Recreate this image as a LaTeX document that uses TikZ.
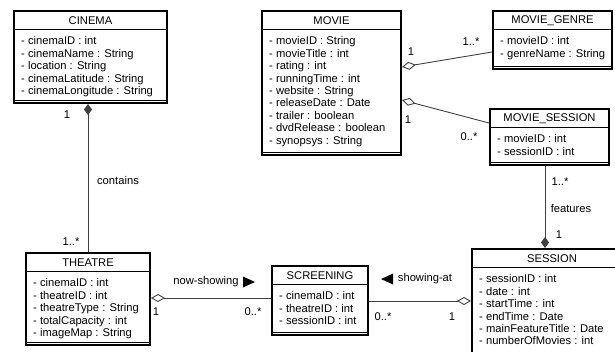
\documentclass[tikz,border=0pt]{standalone}
\usepackage{fontspec}
\setmainfont{Liberation Sans}
\usetikzlibrary{arrows.meta,calc}
\newcommand\umlclass[7]{% name, x, y, w, h, title, attributes
  \node[box, minimum width=#4pt, minimum height=#5pt] (#1) at (#2,#3) {};
  \draw[sepline] ($(#1.north west)+(0,19)$) -- ($(#1.north east)+(0,19)$);
  \draw[sepline] ($(#1.south west)+(0,-4)$) -- ($(#1.south east)+(0,-4)$);
  \node[ttl] (#1-t) at ($(#1.north)+(0,10.5)$) {#6};
  \node[attr] (#1-a) at ($(#1.north west)+(8,26.5)$) {#7};
}
\begin{document}
\begin{tikzpicture}[x=1pt,y=-1pt,
  box/.style={draw=black, line width=2pt, fill=white, inner sep=0pt, anchor=north west},
  sepline/.style={draw=black, line width=0.7pt},
  ttl/.style={font=\fontsize{11.2}{12.4}\selectfont, inner sep=0pt},
  attr/.style={font=\fontsize{11.2}{12.4}\selectfont, align=left, inner sep=0pt, anchor=north west},
  lbl/.style={font=\fontsize{11.2}{12.4}\selectfont, inner sep=0pt},
  conn/.style={draw=black!75, line width=0.9pt},
  agg/.style={conn, {Diamond[open,length=14pt,width=8pt,line width=0.9pt]}-},
  comp/.style={conn, {Diamond[length=11pt,width=8pt]}-},
]
\useasboundingbox (0,0) rectangle (615,351);

\umlclass{cinema}{13}{10}{153}{92}{CINEMA}{- cinemaID : int\\- cinemaName : String\\- location : String\\- cinemaLatitude : String\\- cinemaLongitude : String}
\umlclass{movie}{261}{10}{139}{144}{MOVIE}{- movieID : String\\- movieTitle : int\\- rating : int\\- runningTime : int\\- website : String\\- releaseDate : Date\\- trailer : boolean\\- dvdRelease : boolean\\- synopsys : String}
\umlclass{genre}{492}{10}{119}{58}{MOVIE\_GENRE}{- movieID : int\\- genreName : String}
\umlclass{msession}{489}{108}{119}{56}{MOVIE\_SESSION}{- movieID : int\\- sessionID : int}
\umlclass{theatre}{25}{252}{124}{92}{THEATRE}{- cinemaID : int\\- theatreID : int\\- theatreType : String\\- totalCapacity : int\\- imageMap : String}
\umlclass{screening}{271}{265}{96}{69}{SCREENING}{- cinemaID : int\\- theatreID : int\\- sessionID : int}
\umlclass{session}{471}{248}{160}{115}{SESSION}{- sessionID : int\\- date : int\\- startTime : int\\- endTime : Date\\- mainFeatureTitle : Date\\- numberOfMovies : int}

% connectors
\draw[comp] ($(cinema.south west)+(75,0)$) -- ($(theatre.north west)+(63,0)$);
\draw[agg] ($(theatre.north east)+(0,46)$) -- ($(screening.north west)+(0,33)$);
\draw[agg] ($(session.north west)+(0,53)$) -- ($(screening.north east)+(0,36)$);
\draw[comp] ($(session.north west)+(74,0)$) -- ($(msession.south west)+(56,0)$);
\draw[agg] ($(movie.north east)+(0,57)$) -- ($(genre.north west)+(0,42)$);
\draw[agg] ($(movie.north east)+(0,90)$) -- ($(msession.north west)+(0,15)$);

% labels
\node[lbl] (l1) at (67,115) {1};
\node[lbl] (l2) at (118,180) {contains};
\node[lbl] (l3) at (71,242) {1..*};
\node[lbl] (l4) at (206,282) {now-showing};
\fill (243,276.5) -- (255,282) -- (243,287.5) -- cycle;
\node[lbl] (l5) at (156,312) {1};
\node[lbl] (l6) at (253,312) {0..*};
\fill (393,273.5) -- (381,279) -- (393,284.5) -- cycle;
\node[lbl] (l7) at (425,279) {showing-at};
\node[lbl] (l8) at (383,317) {0..*};
\node[lbl] (l9) at (452,317) {1};
\node[lbl] (l10) at (560,182) {1..*};
\node[lbl] (l11) at (571,208) {features};
\node[lbl] (l12) at (559,235) {1};
\node[lbl] (l13) at (411,52) {1};
\node[lbl] (l14) at (471,42) {1..*};
\node[lbl] (l15) at (408,120) {1};
\node[lbl] (l16) at (469,137) {0..*};
\end{tikzpicture}
\end{document}
